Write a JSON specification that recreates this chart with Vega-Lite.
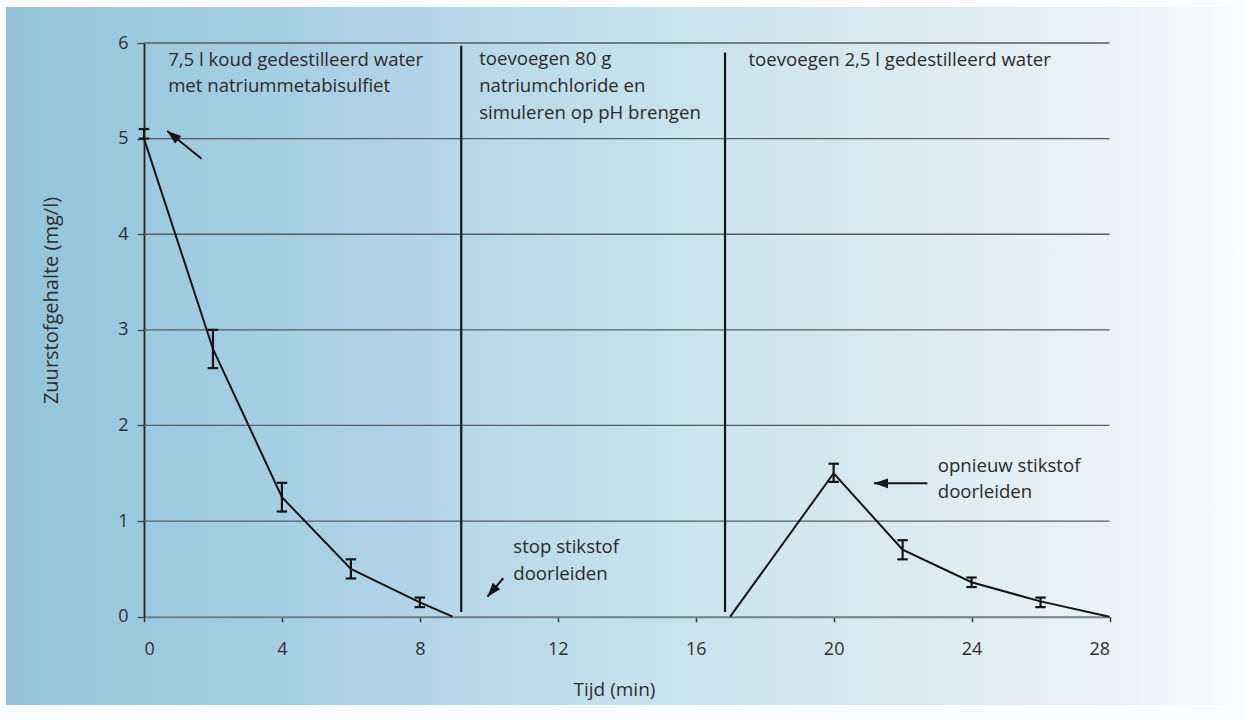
{
  "$schema": "https://vega.github.io/schema/vega-lite/v6.json",
  "width": 1234,
  "height": 698,
  "autosize": {"type": "none"},
  "padding": {"left": 6, "top": 7, "right": 4, "bottom": 15},
  "background": "#fbfcfd",
  "config": {
    "font": "Open Sans",
    "view": {
      "stroke": null,
      "fill": {
        "gradient": "linear",
        "x1": 0, "y1": 0, "x2": 1, "y2": 0,
        "stops": [
          {"offset": 0, "color": "#93c4db"},
          {"offset": 0.25, "color": "#a9d0e3"},
          {"offset": 0.5, "color": "#c4e0ec"},
          {"offset": 0.75, "color": "#dcebf3"},
          {"offset": 0.9, "color": "#eaf2f7"},
          {"offset": 1, "color": "#fafbfc"}
        ]
      }
    },
    "axisX": {
      "offset": -88.3,
      "grid": false,
      "domainColor": "#6f7f86",
      "domainWidth": 2,
      "tickColor": "#333333",
      "tickSize": 5,
      "tickWidth": 1.5,
      "labelFont": "Open Sans",
      "labelFontSize": 18,
      "labelColor": "#2e2e2e",
      "labelPadding": 19,
      "titleFont": "Open Sans",
      "titleFontSize": 19,
      "titleFontWeight": "normal",
      "titleColor": "#2e2e2e",
      "titleBaseline": "alphabetic",
      "titleX": 608,
      "titleY": 78.3
    },
    "axisY": {
      "offset": -138,
      "grid": false,
      "domainColor": "#222222",
      "domainWidth": 1.8,
      "tickColor": "#444444",
      "tickSize": 7,
      "tickWidth": 1.3,
      "labelFont": "Open Sans",
      "labelFontSize": 18,
      "labelColor": "#2e2e2e",
      "labelPadding": 9,
      "titleFont": "Open Sans",
      "titleFontSize": 20,
      "titleFontWeight": "normal",
      "titleColor": "#2e2e2e",
      "titleAngle": -90,
      "titleBaseline": "middle",
      "titleAlign": "center",
      "titleX": -93,
      "titleY": 293
    }
  },
  "datasets": {
    "hlines": [
      {"v": 1, "t": 0, "t2": 28},
      {"v": 2, "t": 0, "t2": 28},
      {"v": 3, "t": 0, "t2": 28},
      {"v": 4, "t": 0, "t2": 28},
      {"v": 5, "t": 0, "t2": 28},
      {"v": 6, "t": 0, "t2": 28}
    ],
    "curve": [
      {"t": 0, "v": 5, "seg": "a"},
      {"t": 2, "v": 2.8, "seg": "a"},
      {"t": 4, "v": 1.25, "seg": "a"},
      {"t": 6, "v": 0.5, "seg": "a"},
      {"t": 8, "v": 0.15, "seg": "a"},
      {"t": 8.95, "v": 0, "seg": "a"},
      {"t": 17, "v": 0, "seg": "b"},
      {"t": 20, "v": 1.5, "seg": "b"},
      {"t": 22, "v": 0.7, "seg": "b"},
      {"t": 24, "v": 0.36, "seg": "b"},
      {"t": 26, "v": 0.16, "seg": "b"},
      {"t": 28, "v": 0, "seg": "b"}
    ],
    "errors": [
      {"t": 0, "v": 5.0, "v2": 5.1},
      {"t": 2, "v": 2.6, "v2": 3.0},
      {"t": 4, "v": 1.1, "v2": 1.4},
      {"t": 6, "v": 0.4, "v2": 0.6},
      {"t": 8, "v": 0.1, "v2": 0.2},
      {"t": 20, "v": 1.41, "v2": 1.6},
      {"t": 22, "v": 0.6, "v2": 0.8},
      {"t": 24, "v": 0.31, "v2": 0.41},
      {"t": 26, "v": 0.1, "v2": 0.2}
    ],
    "events": [
      {"t": 9.2, "v": 0.05, "v2": 5.97},
      {"t": 16.85, "v": 0.05, "v2": 5.9}
    ],
    "notes": [
      {"t": 0.7, "v": 5.76, "label": "7,5 l koud gedestilleerd water"},
      {"t": 0.7, "v": 5.49, "label": "met natriummetabisulfiet"},
      {"t": 9.72, "v": 5.77, "label": "toevoegen 80 g"},
      {"t": 9.72, "v": 5.49, "label": "natriumchloride en"},
      {"t": 9.72, "v": 5.21, "label": "simuleren op pH brengen"},
      {"t": 17.53, "v": 5.76, "label": "toevoegen 2,5 l gedestilleerd water"},
      {"t": 10.71, "v": 0.663, "label": "stop stikstof"},
      {"t": 10.71, "v": 0.384, "label": "doorleiden"},
      {"t": 23.02, "v": 1.517, "label": "opnieuw stikstof"},
      {"t": 23.02, "v": 1.245, "label": "doorleiden"}
    ],
    "arrows": [
      {"id": "a", "t": 0.675, "v": 5.08, "t2": 1.67, "v2": 4.79},
      {"id": "b", "t": 9.96, "v": 0.209, "t2": 10.42, "v2": 0.402},
      {"id": "c", "t": 21.17, "v": 1.395, "t2": 22.72, "v2": 1.395}
    ]
  },
  "encoding": {
    "x": {
      "field": "t",
      "type": "quantitative",
      "title": "Tijd (min)",
      "axis": {"values": [0, 4, 8, 12, 16, 20, 24, 28], "format": "d"},
      "scale": {"domain": [0, 28], "range": [138, 1103.5], "nice": false, "zero": false}
    },
    "y": {
      "field": "v",
      "type": "quantitative",
      "title": "Zuurstofgehalte (mg/l)",
      "axis": {"values": [0, 1, 2, 3, 4, 5, 6], "format": "d"},
      "scale": {"domain": [0, 6], "range": [609.7, 36], "nice": false, "zero": false}
    }
  },
  "layer": [
    {
      "data": {"name": "hlines"},
      "mark": {"type": "rule", "color": "#555e62", "strokeWidth": 1.3},
      "encoding": {"x2": {"field": "t2"}}
    },
    {
      "data": {"name": "events"},
      "mark": {"type": "rule", "color": "#151515", "strokeWidth": 2.2},
      "encoding": {"y2": {"field": "v2"}}
    },
    {
      "data": {"name": "curve"},
      "mark": {"type": "line", "color": "#151515", "strokeWidth": 2},
      "encoding": {"detail": {"field": "seg"}}
    },
    {
      "data": {"name": "errors"},
      "mark": {"type": "rule", "color": "#151515", "strokeWidth": 2.2},
      "encoding": {"y2": {"field": "v2"}}
    },
    {
      "data": {"name": "errors"},
      "mark": {"type": "point", "shape": "stroke", "filled": false, "color": "#151515", "strokeWidth": 2.2, "size": 110, "opacity": 1}
    },
    {
      "data": {"name": "errors"},
      "mark": {"type": "point", "shape": "stroke", "filled": false, "color": "#151515", "strokeWidth": 2.2, "size": 110, "opacity": 1},
      "encoding": {
        "y": {
          "field": "v2",
          "type": "quantitative",
          "title": "Zuurstofgehalte (mg/l)",
          "axis": {"values": [0, 1, 2, 3, 4, 5, 6], "format": "d"},
          "scale": {"domain": [0, 6], "range": [609.7, 36], "nice": false, "zero": false}
        }
      }
    },
    {
      "data": {"name": "arrows"},
      "mark": {"type": "rule", "color": "#151515", "strokeWidth": 2},
      "encoding": {"x2": {"field": "t2"}, "y2": {"field": "v2"}}
    },
    {
      "data": {"name": "arrows"},
      "transform": [{"filter": "datum.id === 'a'"}],
      "mark": {"type": "point", "shape": "M0,0L-0.7,2L0.7,2Z", "filled": true, "color": "#151515", "size": 196, "angle": 309, "opacity": 1}
    },
    {
      "data": {"name": "arrows"},
      "transform": [{"filter": "datum.id === 'b'"}],
      "mark": {"type": "point", "shape": "M0,0L-0.7,2L0.7,2Z", "filled": true, "color": "#151515", "size": 196, "angle": 220, "opacity": 1}
    },
    {
      "data": {"name": "arrows"},
      "transform": [{"filter": "datum.id === 'c'"}],
      "mark": {"type": "point", "shape": "M0,0L-0.7,2L0.7,2Z", "filled": true, "color": "#151515", "size": 196, "angle": 270, "opacity": 1}
    },
    {
      "data": {"name": "notes"},
      "mark": {"type": "text", "align": "left", "baseline": "alphabetic", "font": "Open Sans", "fontSize": 18.6, "color": "#2b2b2b"},
      "encoding": {"text": {"field": "label"}}
    }
  ]
}
